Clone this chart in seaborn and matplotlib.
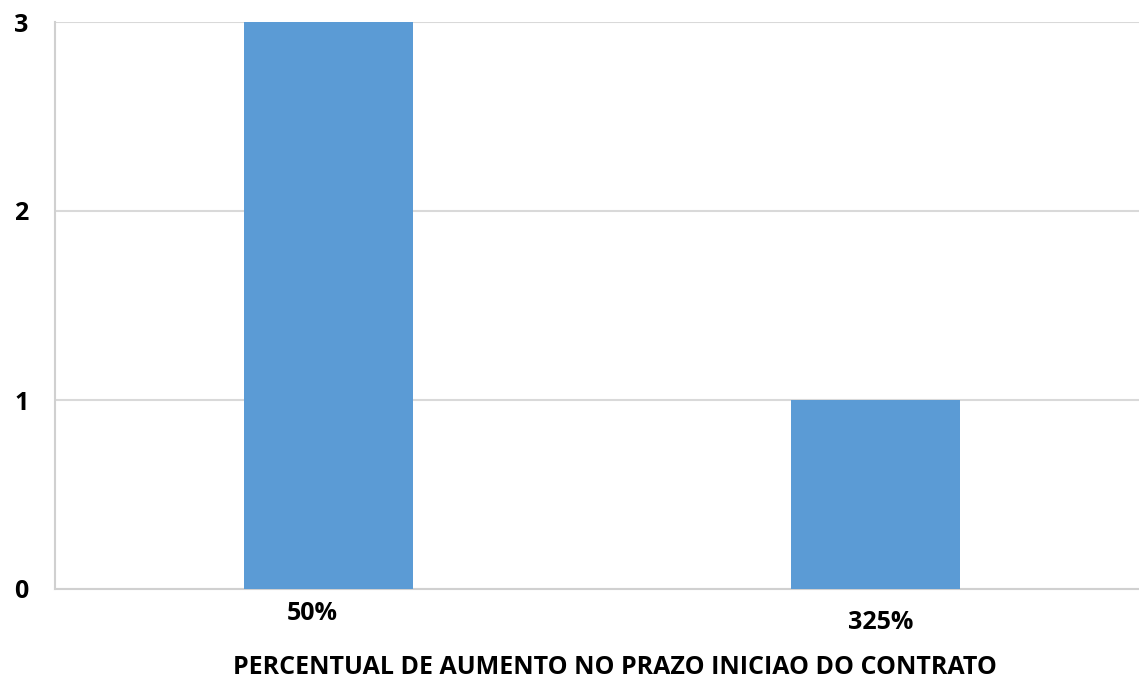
import matplotlib
matplotlib.use("Agg")
import matplotlib.pyplot as plt
import matplotlib.transforms as mtransforms
import seaborn as sns
import pandas as pd

# data
categorias = ["50%", "325%"]
contagem = [3, 1]

df = pd.DataFrame({"categoria": categorias, "contagem": contagem})

sns.set_style("white")
plt.rcParams["font.family"] = ["Open Sans", "DejaVu Sans"]
plt.rcParams["font.weight"] = "bold"
plt.rcParams["text.color"] = "black"
plt.rcParams["xtick.color"] = "black"
plt.rcParams["ytick.color"] = "black"
plt.rcParams["axes.labelcolor"] = "black"

fig = plt.figure(figsize=(11.39, 6.90), dpi=100)
L, R, T, B = 55, 1149, 22, 589
ax = fig.add_axes([L / 1139, 1 - B / 690, (R - L) / 1139, (B - T) / 690])

sns.barplot(data=df, x="categoria", y="contagem", color="#5B9BD5", width=0.31,
            saturation=1, linewidth=0, ax=ax, zorder=3)

ax.set_ylim(0, 3)
ax.set_yticks([0, 1, 2, 3])
ax.grid(axis="y", color="#D9D9D9", linewidth=1.5, zorder=0)
ax.tick_params(axis="both", length=0, labelsize=18, colors="black")
ax.tick_params(axis="y", pad=19)

for s in ["top", "right"]:
    ax.spines[s].set_visible(False)
for s in ["left", "bottom"]:
    ax.spines[s].set_color("#D0D0D0")
    ax.spines[s].set_linewidth(1.5)

# tick labels sit at slightly different heights in the original
ticks = ax.xaxis.get_major_ticks()
ticks[0].set_pad(9)
ticks[1].set_pad(15)
shifts = [-16, 5]
for lab, dx in zip(ax.get_xticklabels(), shifts):
    lab.set_transform(lab.get_transform() + mtransforms.ScaledTranslation(dx / 100, 0, fig.dpi_scale_trans))

ax.set_xlabel("PERCENTUAL DE AUMENTO NO PRAZO INICIAO DO CONTRATO", fontsize=18, fontweight="bold")
ax.xaxis.set_label_coords((615 - L) / (R - L), -(667 - B) / (B - T), transform=ax.transAxes)
ax.xaxis.label.set_va("center")
ax.set_ylabel("")

fig.savefig("out.png", dpi=100)
